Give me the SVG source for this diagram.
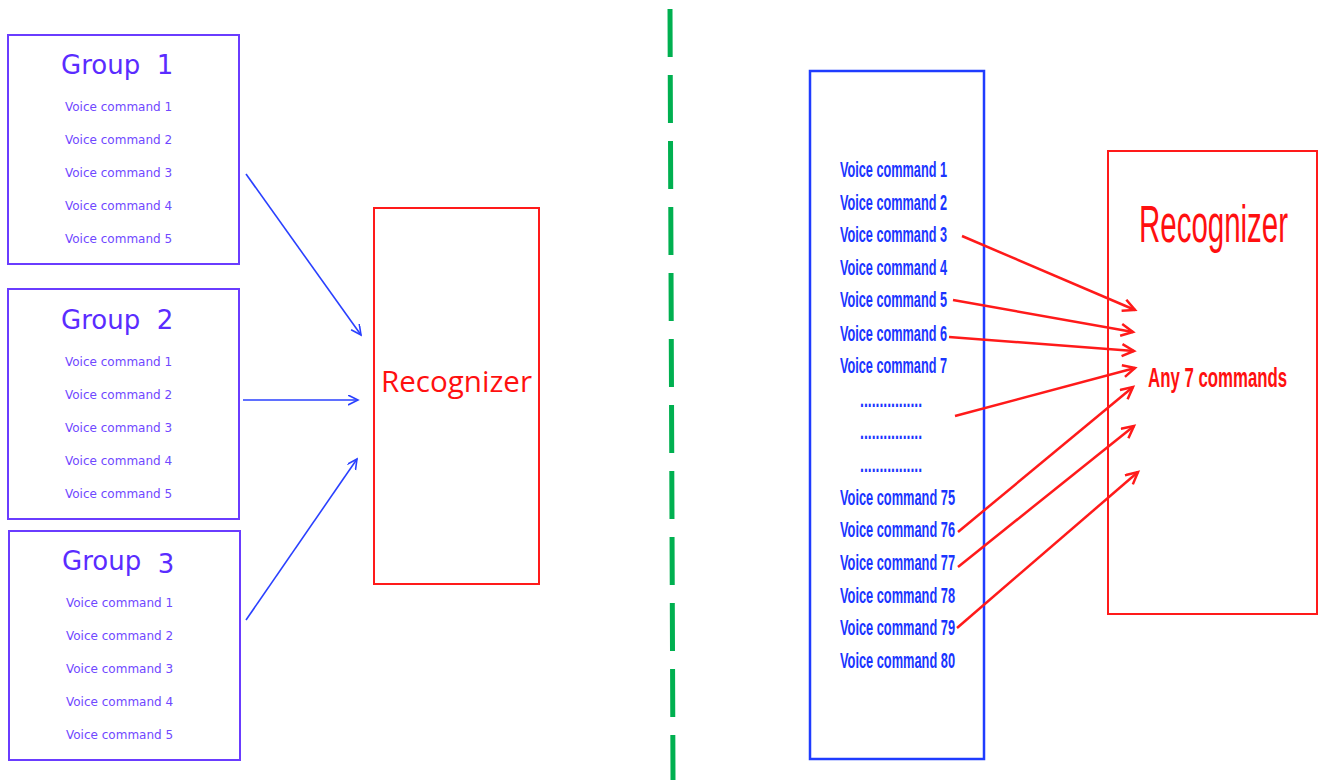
<svg xmlns="http://www.w3.org/2000/svg" width="1318" height="780" viewBox="0 0 1318 780">
<style>
.gbox{fill:none;stroke:#6a3cff;stroke-width:2}
.gtitle{font-family:"DejaVu Sans",sans-serif;font-size:26px;fill:#5a2cff;white-space:pre}
.gcmd{font-family:"DejaVu Sans",sans-serif;font-size:12px;fill:#7048ff}
.rbox{fill:none;stroke:#ff1a1a;stroke-width:2}
.rtext{font-family:"Open Sans","Liberation Sans",sans-serif;font-size:29px;fill:#ff1010}
.bbox{fill:none;stroke:#1f3cff;stroke-width:2.5}
.vcmd{font-family:"Liberation Sans",sans-serif;font-size:22px;font-weight:bold;fill:#1a35ff}
.barrow{fill:none;stroke:#2a40ff;stroke-width:1.6}
.rarrow{fill:none;stroke:#ff1a1a;stroke-width:2.5}
</style>
<defs>
<marker id="bhead" markerUnits="userSpaceOnUse" markerWidth="12" markerHeight="12" refX="10" refY="5" orient="auto">
<path d="M0,0 L10,5 L0,10" fill="none" stroke="#2a40ff" stroke-width="1.6"/>
</marker>
<marker id="rhead" markerUnits="userSpaceOnUse" markerWidth="16" markerHeight="16" refX="13" refY="7" orient="auto">
<path d="M1,1 L13,7 L1,13" fill="none" stroke="#ff1a1a" stroke-width="2.5"/>
</marker>
</defs>
<rect width="1318" height="780" fill="#ffffff"/>

<line id="divider" x1="670" y1="9" x2="673" y2="780" stroke="#00b050" stroke-width="5" stroke-dasharray="48 18"/>

<g id="group1">
<rect class="gbox" x="8" y="35" width="231" height="229"/>
<text class="gtitle" x="61" y="74">Group  1</text>
<text class="gcmd" x="65" y="111">Voice command 1</text>
<text class="gcmd" x="65" y="144">Voice command 2</text>
<text class="gcmd" x="65" y="177">Voice command 3</text>
<text class="gcmd" x="65" y="210">Voice command 4</text>
<text class="gcmd" x="65" y="243">Voice command 5</text>
</g>

<g id="group2">
<rect class="gbox" x="8" y="289" width="231" height="230"/>
<text class="gtitle" x="61" y="329">Group  2</text>
<text class="gcmd" x="65" y="366">Voice command 1</text>
<text class="gcmd" x="65" y="399">Voice command 2</text>
<text class="gcmd" x="65" y="432">Voice command 3</text>
<text class="gcmd" x="65" y="465">Voice command 4</text>
<text class="gcmd" x="65" y="498">Voice command 5</text>
</g>

<g id="group3">
<rect class="gbox" x="9" y="531" width="231" height="229"/>
<text class="gtitle" x="62" y="570">Group  <tspan dy="3">3</tspan></text>
<text class="gcmd" x="66" y="607">Voice command 1</text>
<text class="gcmd" x="66" y="640">Voice command 2</text>
<text class="gcmd" x="66" y="673">Voice command 3</text>
<text class="gcmd" x="66" y="706">Voice command 4</text>
<text class="gcmd" x="66" y="739">Voice command 5</text>
</g>

<g id="recognizer-left">
<rect class="rbox" x="374" y="208" width="165" height="376" stroke-width="1.6"/>
<text class="rtext" x="381" y="392" textLength="151" lengthAdjust="spacingAndGlyphs">Recognizer</text>
</g>

<g id="commands-right">
<rect class="bbox" x="810" y="71" width="174" height="688"/>
<text class="vcmd" x="840" y="177" textLength="107" lengthAdjust="spacingAndGlyphs">Voice command 1</text>
<text class="vcmd" x="840" y="210" textLength="107" lengthAdjust="spacingAndGlyphs">Voice command 2</text>
<text class="vcmd" x="840" y="242" textLength="107" lengthAdjust="spacingAndGlyphs">Voice command 3</text>
<text class="vcmd" x="840" y="275" textLength="107" lengthAdjust="spacingAndGlyphs">Voice command 4</text>
<text class="vcmd" x="840" y="307" textLength="107" lengthAdjust="spacingAndGlyphs">Voice command 5</text>
<text class="vcmd" x="840" y="341" textLength="107" lengthAdjust="spacingAndGlyphs">Voice command 6</text>
<text class="vcmd" x="840" y="373" textLength="107" lengthAdjust="spacingAndGlyphs">Voice command 7</text>
<text class="vcmd" x="860" y="407" textLength="62" lengthAdjust="spacingAndGlyphs">................</text>
<text class="vcmd" x="860" y="439" textLength="62" lengthAdjust="spacingAndGlyphs">................</text>
<text class="vcmd" x="860" y="472" textLength="62" lengthAdjust="spacingAndGlyphs">................</text>
<text class="vcmd" x="840" y="505" textLength="115" lengthAdjust="spacingAndGlyphs">Voice command 75</text>
<text class="vcmd" x="840" y="537" textLength="115" lengthAdjust="spacingAndGlyphs">Voice command 76</text>
<text class="vcmd" x="840" y="570" textLength="115" lengthAdjust="spacingAndGlyphs">Voice command 77</text>
<text class="vcmd" x="840" y="603" textLength="115" lengthAdjust="spacingAndGlyphs">Voice command 78</text>
<text class="vcmd" x="840" y="635" textLength="115" lengthAdjust="spacingAndGlyphs">Voice command 79</text>
<text class="vcmd" x="840" y="668" textLength="115" lengthAdjust="spacingAndGlyphs">Voice command 80</text>
</g>

<g id="recognizer-right">
<rect class="rbox" x="1108" y="151" width="209" height="463" stroke-width="2.5"/>
<text transform="translate(1139,242) scale(0.58,1)" x="0" y="0" font-family="Liberation Sans, sans-serif" font-size="51" fill="#ff1010" textLength="257" lengthAdjust="spacingAndGlyphs">Recognizer</text>
<text transform="translate(1148,387) scale(0.6,1)" x="0" y="0" font-family="Liberation Sans, sans-serif" font-size="28" font-weight="bold" fill="#ff1010" textLength="232" lengthAdjust="spacingAndGlyphs">Any 7 commands</text>
</g>

<g id="connectors">
<line class="barrow" x1="246" y1="174" x2="361" y2="335" marker-end="url(#bhead)"/>
<line class="barrow" x1="243" y1="400" x2="358" y2="400" marker-end="url(#bhead)"/>
<line class="barrow" x1="246" y1="620" x2="357" y2="459" marker-end="url(#bhead)"/>
<line class="rarrow" x1="962" y1="236" x2="1135" y2="310" marker-end="url(#rhead)"/>
<line class="rarrow" x1="953" y1="300" x2="1133" y2="332" marker-end="url(#rhead)"/>
<line class="rarrow" x1="949" y1="337" x2="1134" y2="351" marker-end="url(#rhead)"/>
<line class="rarrow" x1="955" y1="416" x2="1135" y2="368" marker-end="url(#rhead)"/>
<line class="rarrow" x1="958" y1="532" x2="1133" y2="387" marker-end="url(#rhead)"/>
<line class="rarrow" x1="958" y1="567" x2="1134" y2="426" marker-end="url(#rhead)"/>
<line class="rarrow" x1="957" y1="628" x2="1138" y2="472" marker-end="url(#rhead)"/>
</g>
</svg>
